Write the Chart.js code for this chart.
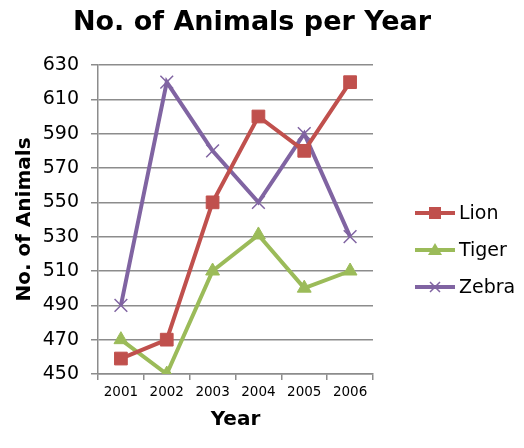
<!DOCTYPE html>
<html>
<head>
<meta charset="utf-8">
<script src="https://cdn.jsdelivr.net/npm/chart.js@4/dist/chart.umd.min.js"></script>
<style>
    html, body { margin: 0; padding: 0; background: #fff; }
    #wrap { width: 524px; height: 448px; }
</style>
</head>
<body>
<div id="wrap"><canvas id="chart" width="524" height="448"></canvas></div>
<script>
const years = ['2001', '2002', '2003', '2004', '2005', '2006']
const lion = [459, 470, 550, 600, 580, 620]
const tiger = [470, 450, 510, 531, 500, 510]
const zebra = [490, 620, 580, 550, 590, 530]
const yTicks = [450, 470, 490, 510, 530, 550, 570, 590, 610, 630]

const FONT = "'DejaVu Sans', Verdana, sans-serif"
const gridColor = '#8c8c8c'

// title sits over the whole picture, not just the plot, so draw it here
const topTitle = {
    id: 'topTitle',
    afterDraw(chart) {
        let ctx = chart.ctx
        ctx.save()
        ctx.fillStyle = '#000'
        ctx.font = 'bold 27px ' + FONT
        ctx.textAlign = 'center'
        ctx.textBaseline = 'middle'
        ctx.fillText('No. of Animals per Year', 252, 23)
        ctx.restore()
    }
}

// legend drawn by hand so it looks like the office style (line with marker)
const sideLegend = {
    id: 'sideLegend',
    afterDraw(chart) {
        let ctx = chart.ctx
        let x0 = 415, x1 = 455
        let ys = [213, 250, 287]
        chart.data.datasets.forEach((ds, i) => {
            let y = ys[i]
            let cx = (x0 + x1) / 2
            ctx.save()
            ctx.strokeStyle = ds.borderColor
            ctx.lineWidth = 4
            ctx.beginPath()
            ctx.moveTo(x0, y)
            ctx.lineTo(x1, y)
            ctx.stroke()
            ctx.fillStyle = ds.borderColor
            if (ds.pointStyle === 'rect') {
                ctx.fillRect(cx - 6, y - 6, 12, 12)
            } else if (ds.pointStyle === 'triangle') {
                ctx.beginPath()
                ctx.moveTo(cx, y - 7)
                ctx.lineTo(cx + 7, y + 5)
                ctx.lineTo(cx - 7, y + 5)
                ctx.closePath()
                ctx.fill()
            } else {
                ctx.lineWidth = 1.5
                ctx.beginPath()
                ctx.moveTo(cx - 5, y - 5)
                ctx.lineTo(cx + 5, y + 5)
                ctx.moveTo(cx + 5, y - 5)
                ctx.lineTo(cx - 5, y + 5)
                ctx.stroke()
            }
            ctx.fillStyle = '#000'
            ctx.font = '19px ' + FONT
            ctx.textBaseline = 'middle'
            ctx.textAlign = 'left'
            ctx.fillText(ds.label, 459, y + 1)
            ctx.restore()
        })
    }
}

function makeSet(label, data, color, style, radius) {
    return {
        label: label,
        data: data,
        borderColor: color,
        backgroundColor: color,
        borderWidth: 4,
        pointStyle: style,
        pointRadius: radius,
        pointHoverRadius: radius,
        pointBorderWidth: style === 'crossRot' ? 1.5 : 1,
        pointBorderColor: color,
        pointBackgroundColor: color,
        tension: 0
    }
}

new Chart(document.getElementById('chart'), {
    type: 'line',
    data: {
        labels: years,
        datasets: [
            makeSet('Lion', lion, '#c0504d', 'rect', 9),
            makeSet('Tiger', tiger, '#9bbb59', 'triangle', 8),
            makeSet('Zebra', zebra, '#8064a2', 'crossRot', 9)
        ]
    },
    options: {
        responsive: false,
        animation: false,
        devicePixelRatio: 1,
        layout: { padding: { left: 0, right: 151, top: 65, bottom: 0 } },
        plugins: {
            legend: { display: false },
            tooltip: { enabled: false },
            title: { display: false }
        },
        scales: {
            x: {
                offset: true,
                afterFit: scale => { scale.height = 74 },
                grid: {
                    offset: true,
                    drawOnChartArea: false,
                    drawTicks: true,
                    tickLength: 6,
                    color: gridColor,
                    lineWidth: 1.5
                },
                border: { color: gridColor, width: 1.5 },
                ticks: {
                    color: '#000',
                    padding: 4,
                    maxRotation: 0,
                    font: { family: FONT, size: 13.5 }
                },
                title: {
                    display: true,
                    text: 'Year',
                    color: '#000',
                    font: { family: FONT, size: 20, weight: 'bold' },
                    padding: { top: 0, bottom: 16 }
                }
            },
            y: {
                min: 450,
                max: 630,
                afterFit: scale => { scale.width = 98 },
                afterBuildTicks: scale => {
                    scale.ticks = yTicks.map(v => ({ value: v }))
                },
                grid: {
                    color: gridColor,
                    lineWidth: 1.5,
                    tickLength: 7
                },
                border: { color: gridColor, width: 1.5 },
                ticks: {
                    color: '#000',
                    padding: 12,
                    font: { family: FONT, size: 19 }
                },
                title: {
                    display: true,
                    text: 'No. of Animals',
                    color: '#000',
                    font: { family: FONT, size: 20, weight: 'bold' },
                    padding: { top: 13, bottom: 0 }
                }
            }
        }
    },
    plugins: [topTitle, sideLegend]
})
</script>
</body>
</html>
